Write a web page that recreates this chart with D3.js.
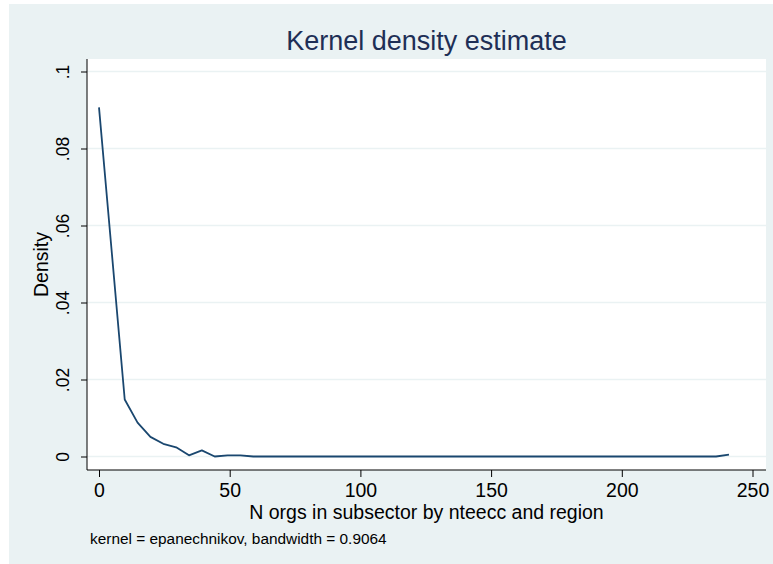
<!DOCTYPE html>
<html>
<head>
<meta charset="utf-8">
<script src="https://cdn.jsdelivr.net/npm/d3@7"></script>
<style>
  body { margin: 0; background: #fff; }
  svg text { font-family: "Liberation Sans", Arial, sans-serif; }
</style>
</head>
<body>
<div id="chart"></div>
<script>
// kdensity grid points (50 points from min to max)
const xs = [0, 4.92, 9.84, 14.75, 19.67, 24.59, 29.51, 34.43, 39.34, 44.26,
  49.18, 54.1, 59.02, 63.93, 68.85, 73.77, 78.69, 83.61, 88.52, 93.44,
  98.36, 103.28, 108.2, 113.11, 118.03, 122.95, 127.87, 132.79, 137.7, 142.62,
  147.54, 152.46, 157.38, 162.29, 167.21, 172.13, 177.05, 181.97, 186.88, 191.8,
  196.72, 201.64, 206.56, 211.47, 216.39, 221.31, 226.23, 231.15, 236.06, 241];

const density = [0.0907, 0.0528, 0.0148, 0.0088, 0.0051, 0.0033, 0.0024, 0.0003, 0.0016, 0.0000,
  0.0003, 0.0003, 0, 0, 0, 0, 0, 0, 0, 0,
  0, 0, 0, 0, 0, 0, 0, 0, 0, 0,
  0, 0, 0, 0, 0, 0, 0, 0, 0, 0,
  0, 0, 0, 0, 0, 0, 0, 0, 0, 0.0005];

const xTicks = [0, 50, 100, 150, 200, 250];
const yTicks = [0, 0.02, 0.04, 0.06, 0.08, 0.1];
const yTickLabels = ["0", ".02", ".04", ".06", ".08", ".1"];

const titleText = "Kernel density estimate";
const xTitle = "N orgs in subsector by nteecc and region";
const yTitle = "Density";
const note = "kernel = epanechnikov, bandwidth = 0.9064";

//==============================================================================

const width = 773, height = 564;
const bg = "#eaf2f3";
const lineColor = "#1a476f";

const plot = {left: 87, right: 766, top: 59, bottom: 470};

const svg = d3.select("#chart").append("svg")
    .attr("width", width)
    .attr("height", height);

svg.append("rect")
    .attr("x", 9).attr("y", 4)
    .attr("width", width - 9).attr("height", height - 4)
    .attr("fill", bg);

svg.append("rect")
    .attr("x", plot.left).attr("y", plot.top)
    .attr("width", plot.right - plot.left).attr("height", plot.bottom - plot.top)
    .attr("fill", "#fff");

const x = d3.scaleLinear().domain([0, 250]).range([99, 752.5]);
const y = d3.scaleLinear().domain([0, 0.1]).range([456.5, 71.5]);

// grid
svg.append("g")
  .selectAll("line")
  .data(yTicks)
  .join("line")
    .attr("x1", plot.left).attr("x2", plot.right)
    .attr("y1", d => y(d)).attr("y2", d => y(d))
    .attr("stroke", bg)
    .attr("stroke-width", 1.5);

// y axis
const yAxis = d3.axisLeft(y)
    .tickValues(yTicks)
    .tickFormat((d, i) => yTickLabels[i])
    .tickSize(6)
    .tickPadding(10);

const gy = svg.append("g")
    .attr("transform", `translate(${plot.left},0)`)
    .call(yAxis);
gy.select(".domain").attr("d", `M0,${plot.top}V${plot.bottom}`).attr("stroke", "#000");
gy.selectAll(".tick line").attr("stroke", "#000");
gy.selectAll(".tick text")
    .attr("font-size", 17.5)
    .attr("fill", "#000")
    .attr("text-anchor", "middle")
    .attr("dy", null)
    .attr("x", null)
    .attr("transform", "translate(-18,0) rotate(-90)")
    .attr("y", 0);

// x axis
const xAxis = d3.axisBottom(x)
    .tickValues(xTicks)
    .tickSize(7)
    .tickPadding(6);

const gx = svg.append("g")
    .attr("transform", `translate(0,${plot.bottom})`)
    .call(xAxis);
gx.select(".domain").attr("d", `M${plot.left},0H${plot.right}`).attr("stroke", "#000");
gx.selectAll(".tick line").attr("stroke", "#000");
gx.selectAll(".tick text")
    .attr("font-size", 19.5)
    .attr("fill", "#000");

// density curve
const line = d3.line()
    .x((d, i) => x(xs[i]))
    .y(d => y(d));

svg.append("path")
    .datum(density)
    .attr("d", line)
    .attr("fill", "none")
    .attr("stroke", lineColor)
    .attr("stroke-width", 1.8)
    .attr("stroke-linejoin", "round");

// texts
svg.append("text")
    .attr("x", (plot.left + plot.right) / 2)
    .attr("y", 50)
    .attr("text-anchor", "middle")
    .attr("font-size", 27)
    .attr("fill", "#1e2f56")
    .text(titleText);

svg.append("text")
    .attr("x", (plot.left + plot.right) / 2)
    .attr("y", 519)
    .attr("text-anchor", "middle")
    .attr("font-size", 19.5)
    .attr("fill", "#000")
    .text(xTitle);

svg.append("text")
    .attr("transform", `translate(48,${(plot.top + plot.bottom) / 2}) rotate(-90)`)
    .attr("text-anchor", "middle")
    .attr("font-size", 19.5)
    .attr("fill", "#000")
    .text(yTitle);

svg.append("text")
    .attr("x", 90)
    .attr("y", 544)
    .attr("font-size", 15.4)
    .attr("fill", "#000")
    .text(note);
</script>
</body>
</html>
